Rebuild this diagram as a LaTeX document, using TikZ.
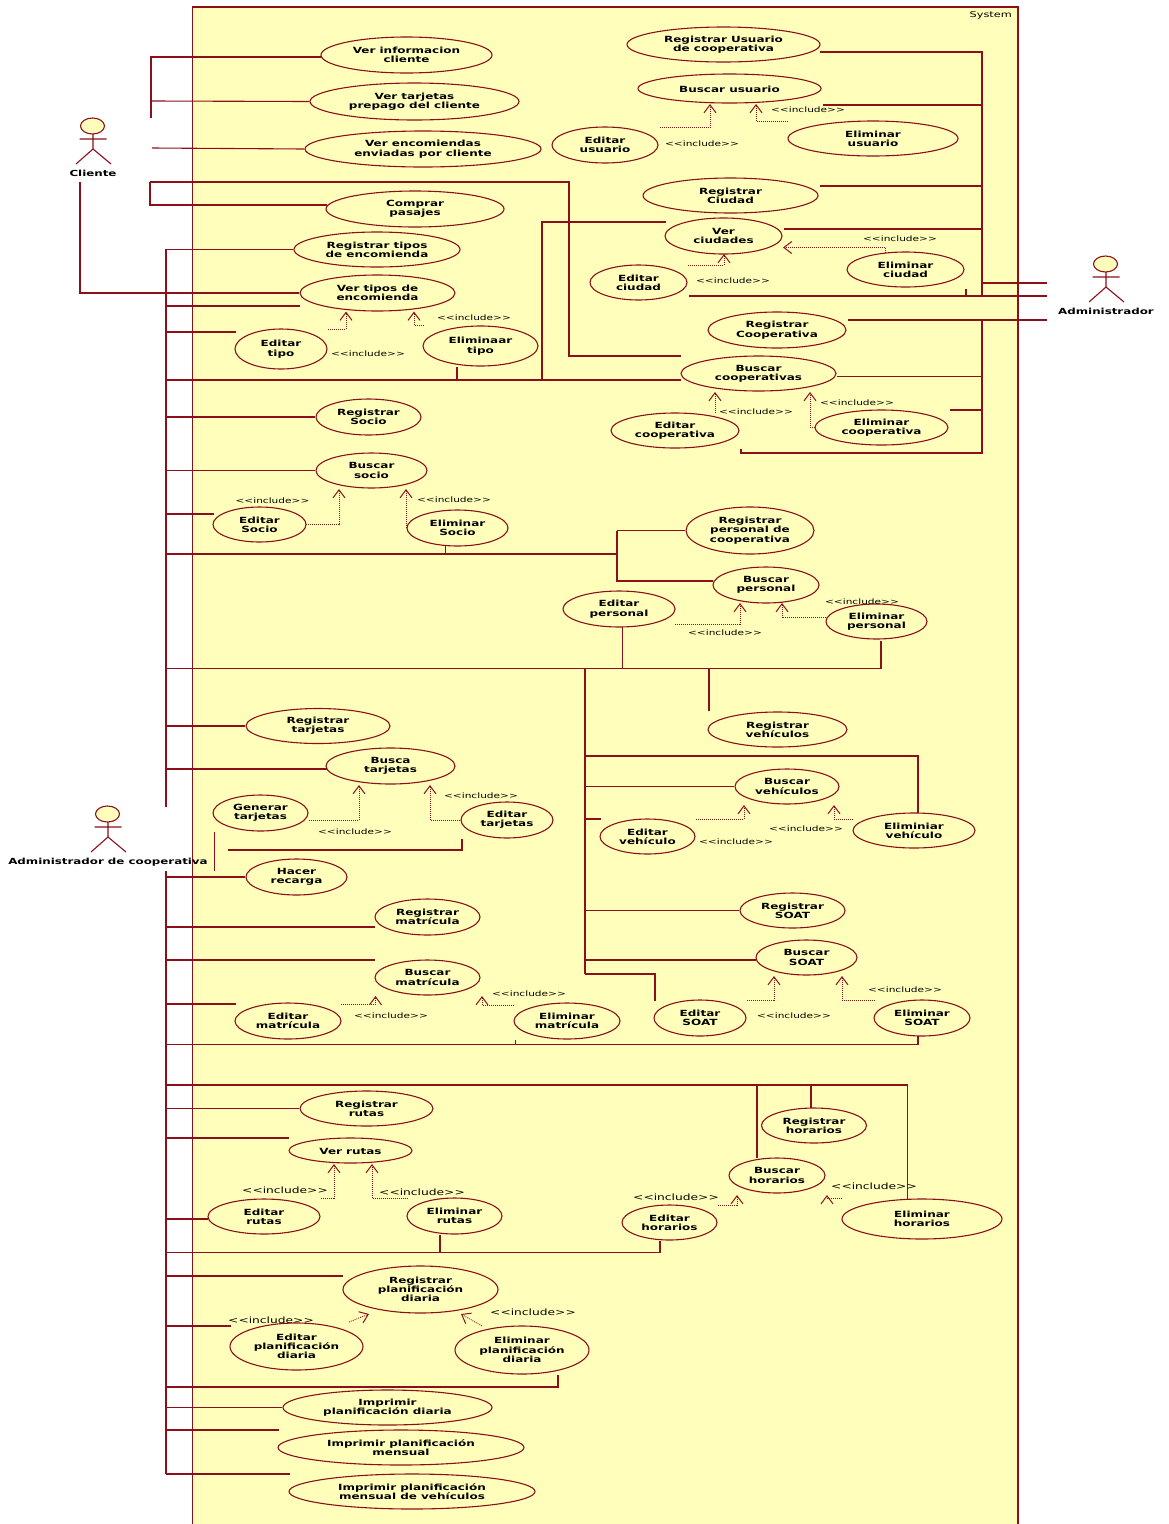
\documentclass[tikz,border=0pt]{standalone}
\usepackage{fontspec}
\usetikzlibrary{arrows.meta,shapes.geometric}
\newfontfamily\umlfont[FakeStretch=1.41]{DejaVu Sans}
\definecolor{umlline}{HTML}{8C0F1C}
\definecolor{umlfill}{HTML}{FFFFBB}

\tikzset{
  actor/.pic={
    \draw[assoc, fill=umlfill] (0,0) ellipse [x radius=12, y radius=8];
    \draw[assoc] (0.5,8) -- (0.5,23) (-13,13) -- (14,13) (-16.5,38) -- (0.5,23) -- (18.5,38);
  }
}

\begin{document}
\begin{tikzpicture}[x=1pt, y=-1pt,
  assoc/.style={draw=umlline, line width=1.1pt},
  trunk/.style={draw=umlline, line width=2.1pt},
  inc/.style={draw=umlline, line width=0.8pt, dash pattern=on 1pt off 1pt,
              -{Straight Barb[length=8pt,width=12pt,line width=1pt]}},
  ucase/.style 2 args={ellipse, draw=umlline, line width=1.1pt, fill=umlfill, inner sep=0pt,
              minimum width=#1pt, minimum height=#2pt, align=center,
              font=\fontsize{8.5}{9.3}\umlfont\bfseries\selectfont,
              execute at begin node={\rule{0pt}{8.5pt}}},
  aname/.style={font=\fontsize{8.4}{10}\umlfont\bfseries\selectfont, inner sep=0pt, yshift=-1pt},
  sysname/.style={font=\fontsize{8}{10}\umlfont\selectfont, inner sep=0pt},
  inclab/.style={font=\fontsize{7.5}{10}\umlfont\selectfont, inner sep=0pt, yshift=-1pt},
  incbig/.style={font=\fontsize{8.7}{11}\umlfont\selectfont, inner sep=0pt, yshift=-1pt}]
  \useasboundingbox (0,0) rectangle (1168,1524);
  % system frame
  \coordinate (fa) at (192.5,1524);
  \coordinate (fb) at (192.5,7);
  \coordinate (fc) at (1018,7);
  \coordinate (fd) at (1018,1524);
  \fill[umlfill] (fa) rectangle (fc);
  \draw[assoc] (fa) -- (fb) -- (fc) -- (fd);
  \node[sysname, anchor=east] (sys) at (1012,15) {System};

  % actors
  \pic at (92.5,126) {actor};
  \node[aname] (cliente) at (93,172) {Cliente};
  \pic at (1105.5,264) {actor};
  \node[aname] (admin) at (1106,310) {Administrador};
  \pic at (107.5,814) {actor};
  \node[aname] (admincoop) at (108,861) {Administrador de cooperativa};

  % cliente
  \node[ucase={171}{36}] (info) at (406.5,55) {Ver informacion\\cliente};
  \node[ucase={209}{37}] (tarj) at (414.5,101.5) {Ver tarjetas\\prepago del cliente};
  \node[ucase={236}{36}] (enc) at (423,149) {Ver encomiendas\\enviadas por cliente};
  \node[ucase={178}{36}] (comprar) at (415,209) {Comprar\\pasajes};

  % tipos de encomienda
  \node[ucase={166}{35}] (regtipos) at (377,249.5) {Registrar tipos\\de encomienda};
  \node[ucase={155}{36}] (vertipos) at (377.5,293) {Ver tipos de\\encomienda};
  \node[ucase={92}{40}] (edittipo) at (281,349) {Editar\\tipo};
  \node[ucase={115}{40}] (elimtipo) at (480.5,346) {Eliminaar\\tipo};

  % socios
  \node[ucase={105}{36}] (regsocio) at (368.5,417) {Registrar\\Socio};
  \node[ucase={111}{35}] (bussocio) at (371.5,470.5) {Buscar\\socio};
  \node[ucase={93}{35}] (editsocio) at (259.5,524.5) {Editar\\Socio};
  \node[ucase={101}{36}] (elimsocio) at (457.5,528) {Eliminar\\Socio};

  % tarjetas
  \node[ucase={144}{35}] (regtarj) at (318,726) {Registrar\\tarjetas};
  \node[ucase={129}{36}] (buscatarj) at (390.5,766) {Busca\\tarjetas};
  \node[ucase={95}{36}] (gentarj) at (260.5,813) {Generar\\tarjetas};
  \node[ucase={92}{36}] (edittarj) at (507,820) {Editar\\tarjetas};
  \node[ucase={101}{36}] (recarga) at (296.5,877) {Hacer\\recarga};

  % matricula
  \node[ucase={105}{36}] (regmat) at (427.5,917) {Registrar\\matrícula};
  \node[ucase={105}{35}] (busmat) at (427.5,977.5) {Buscar\\matrícula};
  \node[ucase={106}{36}] (editmat) at (288,1021) {Editar\\matrícula};
  \node[ucase={106}{36}] (elimmat) at (567,1021) {Eliminar\\matrícula};

  % soat
  \node[ucase={105}{35}] (regsoat) at (792.5,910.5) {Registrar\\SOAT};
  \node[ucase={101}{35}] (bussoat) at (806.5,957.5) {Buscar\\SOAT};
  \node[ucase={92}{36}] (editsoat) at (700,1018) {Editar\\SOAT};
  \node[ucase={96}{36}] (elimsoat) at (922,1018) {Eliminar\\SOAT};

  % horarios
  \node[ucase={105}{35}] (reghor) at (814,1125.5) {Registrar\\horarios};
  \node[ucase={96}{35}] (bushor) at (777,1175.5) {Buscar\\horarios};
  \node[ucase={95}{35}] (edithor) at (669.5,1222.5) {Editar\\horarios};
  \node[ucase={160}{40}] (elimhor) at (922,1219) {Eliminar\\horarios};

  % personal
  \node[ucase={128}{47}] (regpers) at (750,530.5) {Registrar\\personal de\\cooperativa};
  \node[ucase={106}{36}] (buspers) at (766,585) {Buscar\\personal};
  \node[ucase={112}{36}] (editpers) at (619,609) {Editar\\personal};
  \node[ucase={101}{35}] (elimpers) at (876.5,621.5) {Eliminar\\personal};

  % vehiculos
  \node[ucase={139}{35}] (regveh) at (777.5,729.5) {Registrar\\vehículos};
  \node[ucase={104}{35}] (busveh) at (787,786.5) {Buscar\\vehículos};
  \node[ucase={95}{35}] (editveh) at (647.5,836.5) {Editar\\vehículo};
  \node[ucase={122}{35}] (elimveh) at (914,830.5) {Eliminiar\\vehículo};

  % rutas y planificacion
  \node[ucase={133}{35}] (regrutas) at (366.5,1108.5) {Registrar\\rutas};
  \node[ucase={123}{25}] (verrutas) at (350.5,1150.5) {Ver rutas};
  \node[ucase={112}{35}] (editrutas) at (264,1216.5) {Editar\\rutas};
  \node[ucase={95}{36}] (elimrutas) at (454.5,1216) {Eliminar\\rutas};
  \node[ucase={155}{47}] (regplan) at (420.5,1289.5) {Registrar\\planificación\\diaria};
  \node[ucase={133}{47}] (editplan) at (296.5,1346.5) {Editar\\planificación\\diaria};
  \node[ucase={134}{48}] (elimplan) at (522,1350) {Eliminar\\planificación\\diaria};
  \node[ucase={209}{35}] (imprdia) at (387.5,1407.5) {Imprimir\\planificación diaria};
  \node[ucase={246}{35}] (imprmes) at (401,1447.5) {Imprimir planificación\\mensual};
  \node[ucase={246}{35}] (imprveh) at (412,1491.5) {Imprimir planificación\\mensual de vehículos};

  % administrador
  \node[ucase={193}{35}] (regusu) at (723.5,44.5) {Registrar Usuario\\de cooperativa};
  \node[ucase={183}{29}] (bususu) at (729.5,88.5) {Buscar usuario};
  \node[ucase={106}{36}] (editusu) at (605,145) {Editar\\usuario};
  \node[ucase={170}{35}] (elimusu) at (873,138.5) {Eliminar\\usuario};
  \node[ucase={175}{35}] (regciu) at (730.5,195.5) {Registrar\\Ciudad};
  \node[ucase={117}{36}] (verciu) at (723.5,236) {Ver\\ciudades};
  \node[ucase={97}{35}] (editciu) at (638.5,282.5) {Editar\\ciudad};
  \node[ucase={117}{35}] (elimciu) at (905.5,269.5) {Eliminar\\ciudad};
  \node[ucase={138}{36}] (regcoop) at (777,330) {Registrar\\Cooperativa};
  \node[ucase={155}{35}] (buscoop) at (758.5,373.5) {Buscar\\cooperativas};
  \node[ucase={128}{35}] (editcoop) at (675,430.5) {Editar\\cooperativa};
  \node[ucase={133}{35}] (elimcoop) at (881.5,427.5) {Eliminar\\cooperativa};

  % lines of cliente
  \coordinate (cliA) at (151,118);
  \coordinate (cliB) at (151,101);
  \coordinate (cliC) at (152,148);
  \coordinate (cliD) at (150,182);
  \coordinate (cliE) at (569,182);
  \coordinate (cliF) at (80,182);
  \coordinate (infoW) at (321,57);
  \coordinate (comprarW) at (327,205);
  \coordinate (buscoopN) at (681,356);
  \draw[assoc] (cliA) |- (infoW);
  \draw[assoc] (cliB) -- (tarj.west);
  \draw[assoc] (cliC) -- (enc.west);
  \draw[assoc] (cliD) |- (comprarW);
  \draw[assoc] (cliD) -- (cliE) |- (buscoopN);
  \draw[assoc] (cliF) |- (vertipos.west);

  % lines of administrador de cooperativa
  \coordinate (cl) at (166,0);
  \coordinate (cltop) at (166,249);
  \coordinate (clgap) at (166,807);
  \coordinate (clgapb) at (166,871);
  \coordinate (clend) at (166,1474);
  \draw[trunk] (cltop) -- (clgap);
  \draw[trunk] (clgapb) -- (clend);
  \coordinate (vertiposS) at (300,306);
  \coordinate (edittipoN) at (236,332);
  \coordinate (buscoopW) at (681,380);
  \coordinate (verciuW) at (666,222);
  \coordinate (junc) at (542,380);
  \coordinate (elimtipoS) at (457,367);
  \draw[assoc] (cl |- regtipos.west) -- (regtipos.west);
  \draw[assoc] (cl |- vertiposS) -- (vertiposS);
  \draw[assoc] (cl |- edittipoN) -- (edittipoN);
  \draw[assoc] (cl |- buscoopW) -- (buscoopW);
  \draw[assoc] (junc) |- (verciuW);
  \draw[assoc] (elimtipoS) -- (elimtipoS |- buscoopW);
  \draw[assoc] (cl |- regsocio.west) -- (regsocio.west);
  \draw[assoc] (cl |- bussocio.west) -- (bussocio.west);
  \coordinate (editsocioN) at (214,514);
  \coordinate (busP) at (617,554);
  \coordinate (elimsocioS) at (445.5,546);
  \coordinate (buspersW) at (713,581);
  \draw[assoc] (cl |- editsocioN) -- (editsocioN);
  \draw[assoc] (cl |- busP) -- (busP);
  \draw[assoc] (elimsocioS) -- (elimsocioS |- busP);
  \draw[assoc] (busP |- regpers.west) -- (regpers.west);
  \draw[assoc] (busP |- regpers.west) |- (buspersW);
  \coordinate (busV) at (881,668.5);
  \coordinate (elimpersS) at (881,641);
  \coordinate (editpersS) at (622.5,627);
  \coordinate (regvehN) at (709,711);
  \draw[assoc] (cl |- busV) -- (busV) -- (elimpersS);
  \draw[assoc] (editpersS) -- (editpersS |- busV);
  \draw[assoc] (regvehN) -- (regvehN |- busV);
  \coordinate (cm) at (585,0);
  \coordinate (cmtop) at (585,668.5);
  \coordinate (cmend) at (585,974);
  \coordinate (editsoatN) at (655,1001);
  \coordinate (vehbus) at (585,756);
  \coordinate (elimvehN) at (918,813);
  \coordinate (editvehW) at (601,819);
  \coordinate (bussoatW) at (756,960);
  \draw[trunk] (cmtop) -- (cmend);
  \draw[assoc] (cmend) -| (editsoatN);
  \draw[assoc] (vehbus) -| (elimvehN);
  \draw[assoc] (cm |- busveh.west) -- (busveh.west);
  \draw[assoc] (cm |- editvehW) -- (editvehW);
  \draw[assoc] (cm |- regsoat.west) -- (regsoat.west);
  \draw[assoc] (cm |- bussoatW) -- (bussoatW);
  \coordinate (buscatarjW) at (327,769);
  \coordinate (gentarjS) at (214.5,832);
  \coordinate (recargaN) at (214.5,871);
  \coordinate (edittarjS) at (462,839);
  \coordinate (edittarjL) at (228,850);
  \draw[assoc] (cl |- regtarj.west) -- (regtarj.west);
  \draw[assoc] (cl |- buscatarjW) -- (buscatarjW);
  \draw[assoc] (gentarjS) -- (recargaN);
  \draw[assoc] (edittarjL) -| (edittarjS);
  \draw[assoc] (cl |- recarga.west) -- (recarga.west);
  \coordinate (regmatW) at (375,927);
  \coordinate (busmatW) at (375,960);
  \coordinate (editmatW) at (236,1004);
  \coordinate (busM) at (918,1044.5);
  \coordinate (elimsoatS) at (918,1036);
  \coordinate (elimmatS) at (515.5,1040);
  \draw[assoc] (cl |- regmatW) -- (regmatW);
  \draw[assoc] (cl |- busmatW) -- (busmatW);
  \draw[assoc] (cl |- editmatW) -- (editmatW);
  \draw[assoc] (cl |- busM) -- (busM) -- (elimsoatS);
  \draw[assoc] (elimmatS) -- (elimmatS |- busM);
  \coordinate (busH) at (907.5,1085);
  \coordinate (elimhorN) at (907.5,1199);
  \coordinate (bushorN) at (757,1158);
  \coordinate (reghorN) at (811,1108);
  \draw[assoc] (cl |- busH) -- (busH) -- (elimhorN);
  \draw[assoc] (bushorN) -- (bushorN |- busH);
  \draw[assoc] (reghorN) -- (reghorN |- busH);
  \coordinate (verrutasW) at (289,1138);
  \coordinate (editrutasW) at (208,1219);
  \coordinate (busR) at (660,1252.5);
  \coordinate (edithorS) at (660,1241);
  \coordinate (elimrutasS) at (440,1235);
  \draw[assoc] (cl |- regrutas.west) -- (regrutas.west);
  \draw[assoc] (cl |- verrutasW) -- (verrutasW);
  \draw[assoc] (cl |- editrutasW) -- (editrutasW);
  \draw[assoc] (cl |- busR) -- (busR) -- (edithorS);
  \draw[assoc] (elimrutasS) -- (elimrutasS |- busR);
  \coordinate (regplanW) at (343,1276);
  \coordinate (editplanW) at (231,1326);
  \coordinate (busPl) at (558,1387);
  \coordinate (elimplanS) at (558,1375);
  \coordinate (imprmesW) at (279,1430);
  \coordinate (imprvehW) at (290,1474);
  \draw[assoc] (cl |- regplanW) -- (regplanW);
  \draw[assoc] (cl |- editplanW) -- (editplanW);
  \draw[assoc] (cl |- busPl) -- (busPl) -- (elimplanS);
  \draw[assoc] (cl |- imprdia.west) -- (imprdia.west);
  \draw[assoc] (cl |- imprmesW) -- (imprmesW);
  \draw[assoc] (clend) -- (imprvehW);

  % lines of administrador
  \coordinate (cr) at (982,0);
  \coordinate (regusuE) at (820,52);
  \coordinate (bususuE) at (823,105);
  \coordinate (regciuE) at (820,186);
  \coordinate (verciuE) at (784,229);
  \coordinate (crbot) at (982,296);
  \coordinate (adminA) at (1047,283);
  \coordinate (adminB) at (1047,296);
  \coordinate (adminC) at (1047,320);
  \coordinate (editciuE) at (689,296);
  \coordinate (elimciuS) at (966,289);
  \coordinate (regcoopE) at (848,320);
  \coordinate (crlow) at (982,320);
  \coordinate (crbase) at (982,453);
  \coordinate (editcoopS) at (741,449);
  \coordinate (buscoopE) at (837,376.5);
  \coordinate (elimcoopE) at (950,410);
  \draw[assoc] (regusuE) -| (crbot);
  \draw[assoc] (bususuE) -- (cr |- bususuE);
  \draw[assoc] (regciuE) -- (cr |- regciuE);
  \draw[assoc] (verciuE) -- (cr |- verciuE);
  \draw[assoc] (cr |- adminA) -- (adminA);
  \draw[assoc] (editciuE) -- (adminB);
  \draw[trunk] (crbot) -- (adminB);
  \draw[assoc] (elimciuS) -- (elimciuS |- adminB);
  \draw[assoc] (regcoopE) -- (adminC);
  \draw[trunk] (crlow) -- (adminC);
  \draw[assoc] (crlow) -- (crbase) -| (editcoopS);
  \draw[assoc] (buscoopE) -- (cr |- buscoopE);
  \draw[assoc] (elimcoopE) -- (cr |- elimcoopE);

  % include arrows
  \coordinate (editusuA) at (660,127.5); \coordinate (editusuB) at (710,104);
  \coordinate (elimusuA) at (788,121); \coordinate (elimusuB) at (756,104);
  \coordinate (elimciuA) at (885,253); \coordinate (elimciuB) at (783,247.5);
  \coordinate (editciuA) at (688,265); \coordinate (editciuB) at (724,254);
  \coordinate (edittipoA) at (328,329); \coordinate (edittipoB) at (346,311.5);
  \coordinate (elimtipoA) at (424,325); \coordinate (elimtipoB) at (414,311.5);
  \coordinate (editcoopA) at (715,413); \coordinate (editcoopB) at (715,392);
  \coordinate (elimcoopA) at (815,427); \coordinate (elimcoopB) at (810,392);
  \coordinate (editsocioA) at (306,524.5); \coordinate (editsocioB) at (339,489);
  \coordinate (elimsocioA) at (407,527); \coordinate (elimsocioB) at (406,489);
  \coordinate (editpersA) at (675,624); \coordinate (editpersB) at (740,603);
  \coordinate (elimpersA) at (826,617.5); \coordinate (elimpersB) at (782,603);
  \coordinate (editvehA) at (696,819); \coordinate (editvehB) at (744,805);
  \coordinate (elimvehA) at (853,819); \coordinate (elimvehB) at (834,805);
  \coordinate (gentarjA) at (309,820); \coordinate (gentarjB) at (359,785);
  \coordinate (edittarjA) at (460,820); \coordinate (edittarjB) at (430,785);
  \coordinate (editmatA) at (341,1004); \coordinate (editmatB) at (375.5,996);
  \coordinate (elimmatA) at (514,1005); \coordinate (elimmatB) at (482,996);
  \coordinate (editsoatA) at (747,1000); \coordinate (editsoatB) at (774,976);
  \coordinate (elimsoatA) at (875,1000); \coordinate (elimsoatB) at (842,976);
  \coordinate (edithorA) at (718,1205); \coordinate (edithorB) at (737,1195);
  \coordinate (elimhorA) at (842,1198); \coordinate (elimhorB) at (827,1195);
  \coordinate (editrutasA) at (321,1198); \coordinate (editrutasB) at (334,1164);
  \coordinate (elimrutasA) at (408,1198); \coordinate (elimrutasB) at (372,1164);
  \coordinate (editplanA) at (349,1322); \coordinate (editplanB) at (369,1314);
  \coordinate (elimplanA) at (482,1326); \coordinate (elimplanB) at (461,1314);
  \draw[inc] (editusuA) -| (editusuB);
  \draw[inc] (elimusuA) -| (elimusuB);
  \draw[inc] (elimciuA) |- (elimciuB);
  \draw[inc] (editciuA) -| (editciuB);
  \draw[inc] (edittipoA) -| (edittipoB);
  \draw[inc] (elimtipoA) -| (elimtipoB);
  \draw[inc] (editcoopA) -- (editcoopB);
  \draw[inc] (elimcoopA) -| (elimcoopB);
  \draw[inc] (editsocioA) -| (editsocioB);
  \draw[inc] (elimsocioA) -| (elimsocioB);
  \draw[inc] (editpersA) -| (editpersB);
  \draw[inc] (elimpersA) -| (elimpersB);
  \draw[inc] (editvehA) -| (editvehB);
  \draw[inc] (elimvehA) -| (elimvehB);
  \draw[inc] (gentarjA) -| (gentarjB);
  \draw[inc] (edittarjA) -| (edittarjB);
  \draw[inc] (editmatA) -| (editmatB);
  \draw[inc] (elimmatA) -| (elimmatB);
  \draw[inc] (editsoatA) -| (editsoatB);
  \draw[inc] (elimsoatA) -| (elimsoatB);
  \draw[inc] (edithorA) -| (edithorB);
  \draw[inc] (elimhorA) -| (elimhorB);
  \draw[inc] (editrutasA) -| (editrutasB);
  \draw[inc] (elimrutasA) -| (elimrutasB);
  \draw[inc] (editplanA) -- (editplanB);
  \draw[inc] (elimplanA) -- (elimplanB);

  % include labels
  \node[inclab] (l1) at (702,142.5) {<<include>>};
  \node[inclab] (l2) at (808,109) {<<include>>};
  \node[inclab] (l3) at (900,237.5) {<<include>>};
  \node[inclab] (l4) at (733,279.5) {<<include>>};
  \node[inclab] (l5) at (368,353) {<<include>>};
  \node[inclab] (l6) at (474,317) {<<include>>};
  \node[inclab] (l7) at (756,411) {<<include>>};
  \node[inclab] (l8) at (857,402) {<<include>>};
  \node[inclab] (l9) at (272.5,500) {<<include>>};
  \node[inclab] (l10) at (454,499) {<<include>>};
  \node[inclab] (l11) at (725,632) {<<include>>};
  \node[inclab] (l12) at (862,600.5) {<<include>>};
  \node[inclab] (l13) at (806,828) {<<include>>};
  \node[inclab] (l14) at (736,841) {<<include>>};
  \node[inclab] (l15) at (355,831) {<<include>>};
  \node[inclab] (l16) at (481,795) {<<include>>};
  \node[inclab] (l17) at (391,1015) {<<include>>};
  \node[inclab] (l18) at (529,992.5) {<<include>>};
  \node[inclab] (l19) at (794,1015) {<<include>>};
  \node[inclab] (l20) at (905,989) {<<include>>};
  \node[incbig] (l21) at (285,1189) {<<include>>};
  \node[incbig] (l22) at (422,1191) {<<include>>};
  \node[incbig] (l23) at (676,1196) {<<include>>};
  \node[incbig] (l24) at (874,1185) {<<include>>};
  \node[incbig] (l25) at (271,1319) {<<include>>};
  \node[incbig] (l26) at (533,1311) {<<include>>};
\end{tikzpicture}
\end{document}
